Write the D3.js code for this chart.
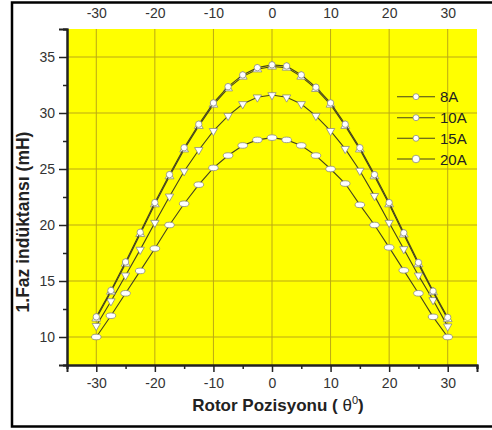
<!DOCTYPE html>
<html>
<head>
<meta charset="utf-8">
<script src="https://cdn.jsdelivr.net/npm/d3@7"></script>
<style>
  body { margin: 0; background: #fff; }
  text { font-family: "Liberation Sans", Arial, sans-serif; }
</style>
</head>
<body>
<div id="chart"></div>
<script>
// rotor angle (deg)
var angles = [-30, -27.5, -25, -22.5, -20, -17.5, -15, -12.5, -10, -7.5, -5, -2.5, 0,
  2.5, 5, 7.5, 10, 12.5, 15, 17.5, 20, 22.5, 25, 27.5, 30];

// phase inductance (mH) per current
var amp8 = [11.8, 14.15, 16.7, 19.35, 22.0, 24.5, 26.9, 29.0, 30.9, 32.35, 33.4, 34.05, 34.3,
  34.2, 33.4, 32.3, 30.9, 29.0, 26.9, 24.5, 22.0, 19.3, 16.65, 14.1, 11.75];
var amp10 = [11.65, 14.05, 16.55, 19.2, 21.85, 24.35, 26.75, 28.85, 30.75, 32.2, 33.25, 33.9, 34.15,
  34.05, 33.25, 32.15, 30.75, 28.85, 26.75, 24.35, 21.85, 19.15, 16.5, 14.0, 11.6];
var amp15 = [11.0, 13.2, 15.5, 17.8, 20.2, 22.55, 24.8, 26.7, 28.4, 29.75, 30.8, 31.4, 31.6,
  31.4, 30.8, 29.75, 28.4, 26.8, 24.85, 22.6, 20.2, 17.85, 15.5, 13.3, 10.95];
var amp20 = [10.0, 11.9, 13.9, 15.9, 17.9, 20.0, 21.9, 23.6, 25.1, 26.2, 27.1, 27.6, 27.8,
  27.6, 27.1, 26.2, 25.0, 23.7, 21.8, 20.0, 18.0, 15.95, 13.9, 11.8, 10.0];

var seriesNames = ["8A", "10A", "15A", "20A"];
var seriesValues = [amp8, amp10, amp15, amp20];
var markerTypes = ["circle", "up", "down", "lens"];

var xTicks = [-30, -20, -10, 0, 10, 20, 30];
var yTicks = [10, 15, 20, 25, 30, 35];

var svgWidth = 492;
var svgHeight = 430;

var svg = d3.select("#chart")
  .append("svg")
  .attr("width", svgWidth)
  .attr("height", svgHeight);

// outer frame (no right edge)
svg.append("path")
  .attr("d", "M492,2.5 H12 V426.5 H492")
  .attr("fill", "none")
  .attr("stroke", "#000")
  .attr("stroke-width", 2.5);

var x = d3.scaleLinear().domain([-35, 35]).range([67, 477]);
var y = d3.scaleLinear().domain([7.5, 37.5]).range([365, 29]);

// plot background
svg.append("rect")
  .attr("x", x(-35))
  .attr("y", y(37.5))
  .attr("width", x(35) - x(-35))
  .attr("height", y(7.5) - y(37.5))
  .attr("fill", "#ffff00");

// grid
var grid = svg.append("g").attr("stroke", "#bba915").attr("stroke-width", 1);
grid.selectAll(".vg").data(xTicks).enter().append("line")
  .attr("x1", d => x(d)).attr("x2", d => x(d))
  .attr("y1", y(37.5)).attr("y2", y(7.5));
grid.selectAll(".hg").data(yTicks).enter().append("line")
  .attr("x1", x(-35)).attr("x2", x(35))
  .attr("y1", d => y(d)).attr("y2", d => y(d));

// axes (plain hyphen for negatives, like the original)
var fmt = d => String(d);
var bottomAxis = d3.axisBottom(x).tickValues(xTicks).tickSize(7).tickPadding(6).tickFormat(fmt);
var bottomMinor = d3.axisBottom(x).tickValues([-35, -25, -15, -5, 5, 15, 25, 35]).tickSize(4).tickFormat("");
var leftAxis = d3.axisLeft(y).tickValues(yTicks).tickSize(8).tickPadding(4).tickFormat(fmt);
var leftMinor = d3.axisLeft(y).tickValues([7.5, 12.5, 17.5, 22.5, 27.5, 32.5, 37.5]).tickSize(4).tickFormat("");
var topAxis = d3.axisTop(x).tickValues(xTicks).tickSize(0).tickPadding(11).tickFormat(fmt);

function styleAxis(g) {
  g.select(".domain").attr("stroke", "#222").attr("stroke-width", 2);
  g.selectAll(".tick line").attr("stroke", "#222").attr("stroke-width", 1.5);
  g.selectAll(".tick text").attr("fill", "#333").style("font-size", "14px")
    .style("font-family", "'Liberation Sans', Arial, sans-serif");
}

svg.append("g").attr("transform", `translate(0, ${y(7.5)})`).call(bottomMinor).call(styleAxis);
svg.append("g").attr("transform", `translate(0, ${y(7.5)})`).call(bottomAxis).call(styleAxis);
svg.append("g").attr("transform", `translate(${x(-35)}, 0)`).call(leftMinor).call(styleAxis);
svg.append("g").attr("transform", `translate(${x(-35)}, 0)`).call(leftAxis).call(styleAxis);
var topG = svg.append("g").attr("transform", `translate(0, ${y(37.5)})`).call(topAxis).call(styleAxis);
topG.select(".domain").remove();

// marker drawing
function drawMarker(g, type) {
  if (type === "circle") {
    g.append("circle").attr("r", 3.2);
  } else if (type === "up") {
    g.append("path").attr("d", d3.symbol().type(d3.symbolTriangle).size(34)());
  } else if (type === "down") {
    g.append("path").attr("d", d3.symbol().type(d3.symbolTriangle).size(30)())
      .attr("transform", "rotate(180)");
  } else {
    g.append("ellipse").attr("rx", 4.8).attr("ry", 2.8);
  }
}

var line = d3.line()
  .x((d, i) => x(angles[i]))
  .y(d => y(d));

// draw from bottom series to top
for (var s = seriesValues.length - 1; s >= 0; s--) {
  var vals = seriesValues[s];
  svg.append("path")
    .datum(vals)
    .attr("d", line)
    .attr("fill", "none")
    .attr("stroke", "#45431f")
    .attr("stroke-width", 1.1);

  var pts = svg.append("g")
    .attr("fill", "#fff")
    .attr("stroke", "#8a8a80")
    .attr("stroke-width", 0.8);
  pts.selectAll("g").data(vals).enter().append("g")
    .attr("transform", (d, i) => `translate(${x(angles[i])}, ${y(d)})`)
    .each(function () { drawMarker(d3.select(this), markerTypes[s]); });
}

// legend
var legendY = [96.7, 117.7, 138.3, 159];
var legend = svg.append("g");
seriesNames.forEach(function (name, i) {
  var g = legend.append("g").attr("transform", `translate(0, ${legendY[i]})`);
  g.append("line")
    .attr("x1", 397).attr("x2", 435)
    .attr("stroke", "#45431f").attr("stroke-width", 1.1);
  var m = g.append("g")
    .attr("transform", "translate(416, 0)")
    .attr("fill", "#fff").attr("stroke", "#8a8a80").attr("stroke-width", 0.8);
  m.append("circle").attr("r", i === 3 ? 3.8 : 3);
  g.append("text")
    .attr("x", 440).attr("y", 5.5)
    .attr("fill", "#222")
    .style("font-size", "15px")
    .text(name);
});

// axis titles
svg.append("text")
  .attr("x", 278)
  .attr("y", 411)
  .attr("text-anchor", "middle")
  .attr("fill", "#222")
  .style("font-size", "17px")
  .style("font-weight", "bold")
  .html("Rotor Pozisyonu ( <tspan font-weight='normal'>θ</tspan><tspan dy='-7' font-size='11px' font-weight='normal'>0</tspan><tspan dy='7'>)</tspan>");

svg.append("text")
  .attr("transform", "translate(29, 222) rotate(-90)")
  .attr("text-anchor", "middle")
  .attr("fill", "#222")
  .style("font-size", "17.5px")
  .style("font-weight", "bold")
  .text("1.Faz indüktansı (mH)");
</script>
</body>
</html>
